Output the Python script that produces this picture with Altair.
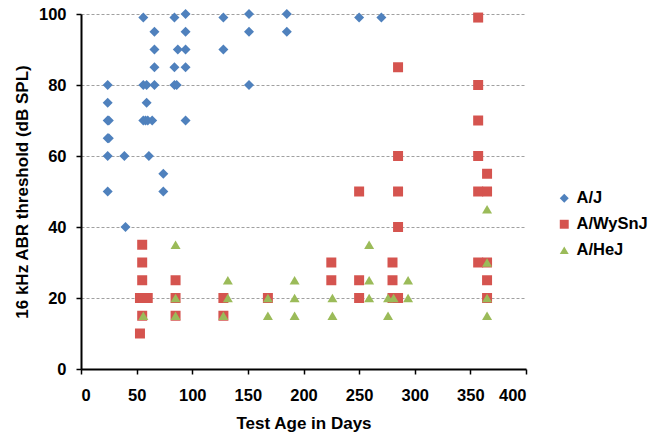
import altair as alt
import pandas as pd

strains = ["A/J", "A/WySnJ", "A/HeJ"]

aj_days = [24, 24, 24, 25, 24, 25, 24, 24,
           39, 40,
           56, 66, 66, 66, 56, 59, 66, 59, 56, 58, 60, 64, 61, 74, 74,
           84, 94, 94, 87, 94, 84, 94, 84, 86, 94,
           128, 128, 151, 151, 151, 185, 185, 250, 270]
aj_db = [80, 75, 70, 70, 65, 65, 60, 50,
         60, 40,
         99, 95, 90, 85, 80, 80, 80, 75, 70, 70, 70, 70, 60, 55, 50,
         99, 100, 95, 90, 90, 85, 85, 80, 80, 70,
         99, 90, 100, 95, 80, 100, 95, 99, 99]

wy_days = [55, 55, 55, 53, 56, 60, 55, 53,
           85, 85, 85,
           128, 128,
           168,
           225, 225,
           250, 250, 250,
           280, 280, 280, 285, 285, 285, 285, 285,
           357, 357, 357, 357, 357, 365, 365, 357, 365, 365, 365]
wy_db = [35, 30, 25, 20, 20, 20, 15, 10,
         25, 20, 15,
         20, 15,
         20,
         30, 25,
         50, 25, 20,
         30, 25, 20, 20, 85, 60, 50, 40,
         99, 80, 70, 60, 50, 55, 50, 30, 30, 25, 20]

he_days = [56, 85, 85, 85, 128, 132, 132, 168, 168, 192, 192, 192, 226, 226,
           259, 259, 259, 276, 276, 281, 294, 294, 365, 365, 365, 365]
he_db = [15, 35, 20, 15, 15, 25, 20, 20, 15, 25, 20, 15, 20, 15,
         35, 25, 20, 15, 20, 20, 25, 20, 45, 30, 20, 15]

x_ticks = [0, 50, 100, 150, 200, 250, 300, 350, 400]
y_ticks = [0, 20, 40, 60, 80, 100]

rows = []
for d, v in zip(aj_days, aj_db):
    rows.append({"day": d, "db": v, "strain": "A/J", "o": 0})
for d, v in zip(wy_days, wy_db):
    rows.append({"day": d, "db": v, "strain": "A/WySnJ", "o": 1})
for d, v in zip(he_days, he_db):
    rows.append({"day": d, "db": v, "strain": "A/HeJ", "o": 2})
df = pd.DataFrame(rows)

FONT = "Liberation Sans"

chart = alt.Chart(df).mark_point(filled=True, size=100, opacity=1).encode(
    x=alt.X("day:Q", scale=alt.Scale(domain=[0, 400], nice=False),
            axis=alt.Axis(values=x_ticks, title="Test Age in Days", grid=False,
                          labelPadding=13, titlePadding=12)),
    y=alt.Y("db:Q", scale=alt.Scale(domain=[0, 100], nice=False),
            axis=alt.Axis(values=y_ticks, title="16 kHz ABR threshold (dB SPL)",
                          grid=True, gridDash=[3, 2], gridColor="#a0a0a0",
                          labelPadding=10, titlePadding=7)),
    color=alt.Color("strain:N", scale=alt.Scale(domain=strains,
                    range=["#4F81BD", "#D5544F", "#9BBB59"]),
                    legend=alt.Legend(title=None, orient="none", legendX=475, legendY=176,
                                      labelFont=FONT, labelFontSize=16.5, labelFontWeight="bold",
                                      labelColor="#000", symbolSize=80, rowPadding=9,
                                      labelOffset=4)),
    shape=alt.Shape("strain:N", scale=alt.Scale(domain=strains,
                    range=["diamond", "square", "triangle-up"]), legend=None),
    order=alt.Order("o:Q"),
).properties(
    width=445, height=355,
    autosize=alt.AutoSizeParams(type="none"),
    padding={"left": 73, "top": 6, "right": 126, "bottom": 66},
).configure_view(stroke=None).configure_axis(
    labelFont=FONT, labelFontSize=16.5, labelFontWeight="bold", labelColor="#000",
    titleFont=FONT, titleFontSize=17, titleFontWeight="bold", titleColor="#000",
    domainColor="#000", domainWidth=2, tickColor="#000", tickWidth=1.5, tickSize=5,
)

chart.save("out.html", embed_options={"renderer": "svg", "actions": False})
